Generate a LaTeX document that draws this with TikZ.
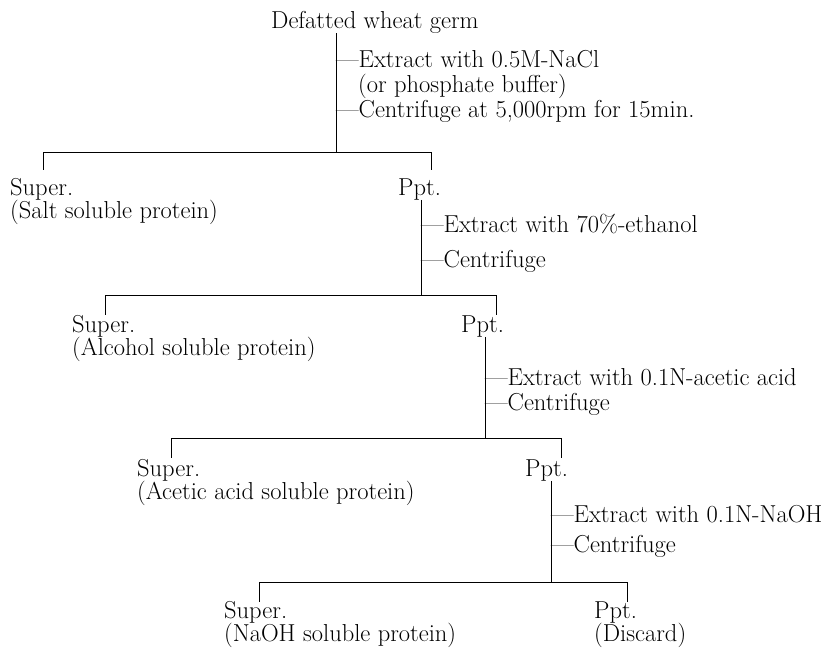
\documentclass[tikz,border=0pt]{standalone}
\usepackage{tikz}
\usetikzlibrary{positioning}

\tikzset{
  txt/.style={anchor=base west,inner sep=0pt,font=\fontsize{24.5}{23}\selectfont},
  branch/.style={line width=0.9pt},
}

\begin{document}
\begin{tikzpicture}[x=1pt,y=-1pt]
    \useasboundingbox (0,0) rectangle (834,648);
    \pgfmathsetmacro{\ls}{23.5}
    % Draw the starting material
    \node (germ) [txt] at (271,28) {Defatted wheat germ};
    \coordinate (j1) at (336,152);
    \draw [branch] (germ.south -| j1) -- (j1);
    \node (ext1) [txt] at (336,67) {---Extract with 0.5M-NaCl};
    \node (ext1b) [txt] at (358,92) {(or phosphate buffer)};
    \node (cen1) [txt] at (336,117) {---Centrifuge at 5,000rpm for 15min.};

    % Draw the first split
    \coordinate (b1l) at (43,152);
    \coordinate (b1r) at (431,152);
    \coordinate (t1l) at (43,170);
    \coordinate (t1r) at (431,170);
    \draw [branch] (b1l) -- (b1r);
    \draw [branch] (b1l) -- (t1l);
    \draw [branch] (b1r) -- (t1r);
    \node (sup1) [txt] at (10,195) {Super.};
    \node (sup1b) [txt] at (10,195+\ls) {(Salt soluble protein)};
    \node (ppt1) [txt] at (398,195) {Ppt.};

    % Extract with ethanol
    \coordinate (j2) at (421,295);
    \draw [branch] (ppt1.south -| j2) -- (j2);
    \node (ext2) [txt] at (421,232) {---Extract with 70\%-ethanol};
    \node (cen2) [txt] at (421,267) {---Centrifuge};
    \coordinate (b2l) at (105,295);
    \coordinate (b2r) at (496,295);
    \coordinate (t2l) at (105,315);
    \coordinate (t2r) at (496,315);
    \draw [branch] (b2l) -- (b2r);
    \draw [branch] (b2l) -- (t2l);
    \draw [branch] (b2r) -- (t2r);
    \node (sup2) [txt] at (72,332) {Super.};
    \node (sup2b) [txt] at (72,332+\ls) {(Alcohol soluble protein)};
    \node (ppt2) [txt] at (461,332) {Ppt.};

    % Extract with acetic acid
    \coordinate (j3) at (485,438);
    \draw [branch] (ppt2.south -| j3) -- (j3);
    \node (ext3) [txt] at (485,385) {---Extract with 0.1N-acetic acid};
    \node (cen3) [txt] at (485,410) {---Centrifuge};
    \coordinate (b3l) at (171,438);
    \coordinate (b3r) at (561,438);
    \coordinate (t3l) at (171,458);
    \coordinate (t3r) at (561,458);
    \draw [branch] (b3l) -- (b3r);
    \draw [branch] (b3l) -- (t3l);
    \draw [branch] (b3r) -- (t3r);
    \node (sup3) [txt] at (137,476) {Super.};
    \node (sup3b) [txt] at (137,476+\ls) {(Acetic acid soluble protein)};
    \node (ppt3) [txt] at (525,476) {Ppt.};

    % Extract with NaOH
    \coordinate (j4) at (551,582);
    \draw [branch] (ppt3.south -| j4) -- (j4);
    \node (ext4) [txt] at (551,522) {---Extract with 0.1N-NaOH};
    \node (cen4) [txt] at (551,552) {---Centrifuge};
    \coordinate (b4l) at (259,582);
    \coordinate (b4r) at (627,582);
    \coordinate (t4l) at (259,602);
    \coordinate (t4r) at (627,602);
    \draw [branch] (b4l) -- (b4r);
    \draw [branch] (b4l) -- (t4l);
    \draw [branch] (b4r) -- (t4r);
    \node (sup4) [txt] at (224,618) {Super.};
    \node (sup4b) [txt] at (224,618+\ls) {(NaOH soluble protein)};
    \node (ppt4) [txt] at (594,618) {Ppt.};
    \node (ppt4b) [txt] at (594,618+\ls) {(Discard)};

\end{tikzpicture}
\end{document}
